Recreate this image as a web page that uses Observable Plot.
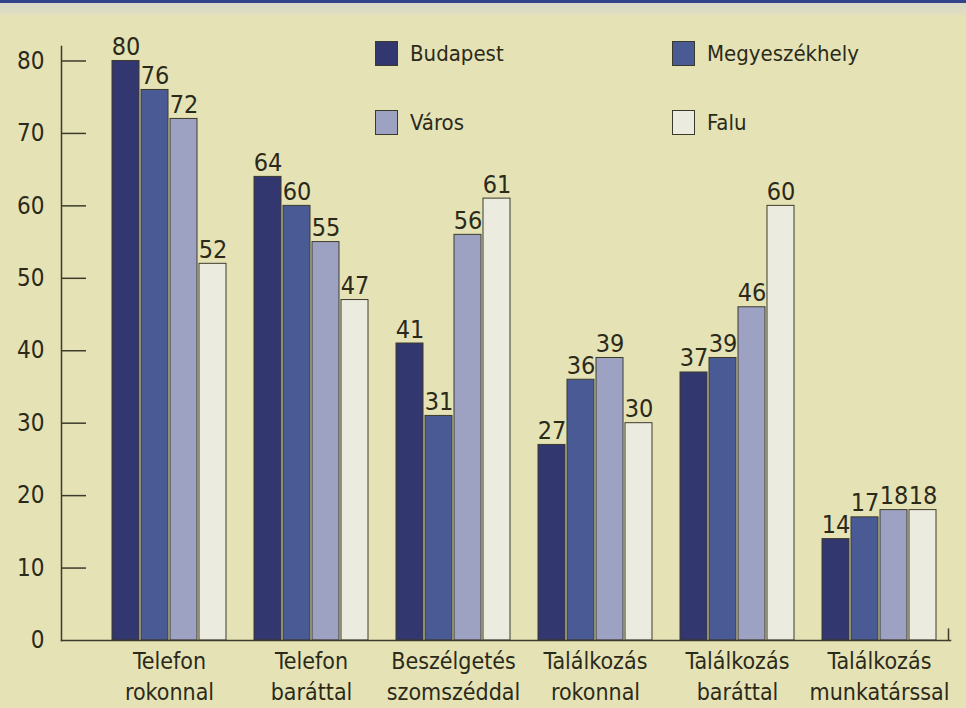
<!DOCTYPE html>
<html>
<head>
<meta charset="utf-8">
<script src="https://cdn.jsdelivr.net/npm/d3@7"></script>
<script src="https://cdn.jsdelivr.net/npm/@observablehq/plot@0.6"></script>
<style>
  html, body { margin: 0; padding: 0; background: #e5e3b5; }
  #wrap { position: relative; width: 966px; height: 708px; overflow: hidden; background: #e5e3b5; }
  #stripe { position: absolute; left: 0; top: 0; width: 966px; height: 3px; background: #33448a; }
  #stripe2 { position: absolute; left: 0; top: 3px; width: 966px; height: 12px; background: linear-gradient(#d9d9c9, #e0dfc0); }
  #legend { position: absolute; left: 0; top: 0; font-family: "DejaVu Sans Condensed", sans-serif; font-size: 22px; color: #2b2a1a; }
  .item { position: absolute; display: flex; align-items: center; white-space: nowrap; }
  .sw { width: 23px; height: 25px; border: 1px solid #3a3a2a; margin-right: 12px; box-sizing: border-box; }
  svg { font-family: "DejaVu Sans Condensed", sans-serif; }
</style>
</head>
<body>
<div id="wrap">
  <div id="stripe2"></div>
  <div id="stripe"></div>
  <div id="chart"></div>
  <div id="legend"></div>
</div>
<script>
const categories = [
  "Telefon\nrokonnal",
  "Telefon\nbaráttal",
  "Beszélgetés\nszomszéddal",
  "Találkozás\nrokonnal",
  "Találkozás\nbaráttal",
  "Találkozás\nmunkatárssal"
];
const series = ["Budapest", "Megyeszékhely", "Város", "Falu"];
const budapest      = [80, 64, 41, 27, 37, 14];
const megyeszekhely = [76, 60, 31, 36, 39, 17];
const varos         = [72, 55, 56, 39, 46, 18];
const falu          = [52, 47, 61, 30, 60, 18];
const colors = ["#33376f", "#4a5a95", "#9da2c3", "#ecebdf"];
const yTicks = [0, 10, 20, 30, 40, 50, 60, 70, 80];

const seriesValues = [budapest, megyeszekhely, varos, falu];
const data = [];
series.forEach((s, si) => categories.forEach((c, ci) => data.push({category: c, series: s, value: seriesValues[si][ci]})));

const textColor = "#2b2a1a";
const stride = 29;

const marks = [];
series.forEach((s, i) => {
  marks.push(Plot.barY(data.filter(d => d.series === s), {
    x: "category", y: "value", fill: "series",
    stroke: "#3d3b2c", strokeWidth: 1,
    insetLeft: i * stride, insetRight: (3 - i) * stride
  }));
  marks.push(Plot.text(data.filter(d => d.series === s), {
    x: "category", y: "value", text: d => String(d.value),
    dx: -1.5 * stride + i * stride, dy: -6, lineAnchor: "bottom",
    fontSize: 25, fill: textColor
  }));
});

const plot = Plot.plot({
  width: 966,
  height: 708,
  marginLeft: 61,
  marginRight: 16,
  marginTop: 46,
  marginBottom: 68,
  style: {background: "transparent", color: textColor, fontSize: "24px"},
  x: {domain: categories, paddingInner: 0.2, paddingOuter: 0.217, align: 0.775, label: null},
  y: {domain: [0, 82], label: null},
  color: {domain: series, range: colors},
  marks: [
    Plot.axisY({ticks: yTicks, tickSize: 0, tickPadding: 17, fontSize: 24, label: null, fill: textColor}),
    Plot.axisY({ticks: yTicks.filter(v => v > 0), tickSize: 25, dx: 25, tickFormat: () => "", label: null, stroke: "#3d3b2c", strokeWidth: 1.5}),
    Plot.axisX({tickSize: 0, tickPadding: 7, fontSize: 23, lineHeight: 1.33, label: null, fill: textColor}),
    ...marks,
    Plot.frame({anchor: "left", stroke: "#3d3b2c", strokeWidth: 1.5}),
    Plot.frame({anchor: "bottom", stroke: "#3d3b2c", strokeWidth: 1.5}),
    Plot.ruleX([categories[categories.length - 1]], {x: d => d, y1: 0, y2: 1.6, dx: 69, stroke: "#3d3b2c", strokeWidth: 1.5})
  ]
});
document.getElementById("chart").appendChild(plot);

// legend
const legendPos = [[375, 41], [672, 41], [375, 110], [672, 110]];
const legend = document.getElementById("legend");
series.forEach((s, i) => {
  const item = document.createElement("div");
  item.className = "item";
  item.style.left = legendPos[i][0] + "px";
  item.style.top = legendPos[i][1] + "px";
  const sw = document.createElement("div");
  sw.className = "sw";
  sw.style.background = colors[i];
  const t = document.createElement("span");
  t.textContent = s;
  item.appendChild(sw);
  item.appendChild(t);
  legend.appendChild(item);
});
</script>
</body>
</html>
